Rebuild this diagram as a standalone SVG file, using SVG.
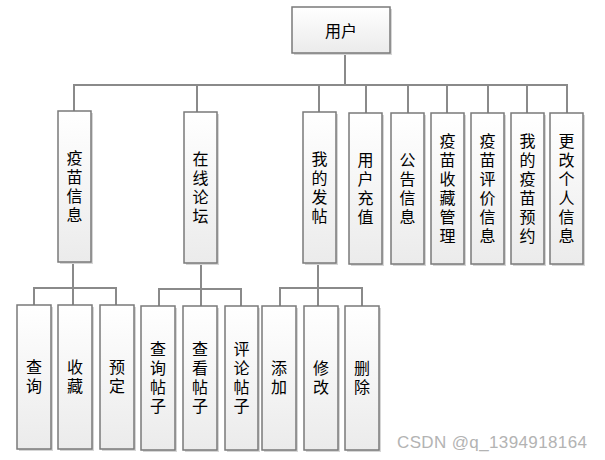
<svg xmlns="http://www.w3.org/2000/svg" width="605" height="460" viewBox="0 0 605 460">
<defs>
<linearGradient id="g" x1="0" y1="0" x2="0" y2="1">
<stop offset="0" stop-color="#ffffff"/>
<stop offset="1" stop-color="#ebebeb"/>
</linearGradient>
<style>
.b{fill:url(#g);stroke:#7a7a7a;stroke-width:1.5}
.s{fill:#d6d6d6}
.t{font-family:"Noto Sans CJK SC","Noto Sans CJK JP",sans-serif;font-size:16px;fill:#000;text-anchor:middle;dominant-baseline:central}
.v{font-family:"Noto Sans CJK SC","Noto Sans CJK JP",sans-serif;font-size:16px;fill:#000;text-anchor:middle;writing-mode:vertical-rl;text-orientation:upright;letter-spacing:3px}
.c line{stroke:#8a8a8a;stroke-width:2}
.w{font-family:"Liberation Sans",Arial,sans-serif;font-size:17px;fill:#b3b3b3}
</style>
</defs>
<rect width="605" height="460" fill="#fff"/>
<g class="c" id="connectors">
<line x1="345" y1="53" x2="345" y2="85"/>
<line x1="73" y1="85" x2="568" y2="85"/>
<line x1="74" y1="85" x2="74" y2="111"/>
<line x1="197" y1="85" x2="197" y2="112"/>
<line x1="319" y1="85" x2="319" y2="112"/>
<line x1="366" y1="85" x2="366" y2="113"/>
<line x1="408" y1="85" x2="408" y2="113"/>
<line x1="447" y1="85" x2="447" y2="113"/>
<line x1="488" y1="85" x2="488" y2="113"/>
<line x1="527" y1="85" x2="527" y2="113"/>
<line x1="567" y1="85" x2="567" y2="113"/>
<line x1="73" y1="262" x2="73" y2="305"/>
<line x1="33" y1="288" x2="117" y2="288"/>
<line x1="34" y1="288" x2="34" y2="305"/>
<line x1="116" y1="288" x2="116" y2="305"/>
<line x1="201" y1="263" x2="201" y2="306"/>
<line x1="158" y1="289" x2="242" y2="289"/>
<line x1="159" y1="289" x2="159" y2="306"/>
<line x1="241" y1="289" x2="241" y2="306"/>
<line x1="318" y1="263" x2="318" y2="306"/>
<line x1="279" y1="288" x2="363" y2="288"/>
<line x1="280" y1="288" x2="280" y2="306"/>
<line x1="362" y1="288" x2="362" y2="306"/>
</g>
<g id="n0"><rect class="s" x="294" y="9" width="98" height="46"/><rect class="b" x="292" y="7" width="98" height="46"/><text class="t" x="341" y="30">用户</text></g>
<g id="n1"><rect class="s" x="60" y="113" width="33" height="151"/><rect class="b" x="58" y="111" width="33" height="151"/><text class="v" x="74.5" y="188">疫苗信息</text></g>
<g id="n2"><rect class="s" x="186" y="114" width="33" height="151"/><rect class="b" x="184" y="112" width="33" height="151"/><text class="v" x="200.5" y="189">在线论坛</text></g>
<g id="n3"><rect class="s" x="305" y="114" width="33" height="151"/><rect class="b" x="303" y="112" width="33" height="151"/><text class="v" x="319.5" y="189">我的发帖</text></g>
<g id="n4"><rect class="s" x="351" y="115" width="33" height="151"/><rect class="b" x="349" y="113" width="33" height="151"/><text class="v" x="365.5" y="190">用户充值</text></g>
<g id="n5"><rect class="s" x="393" y="115" width="33" height="151"/><rect class="b" x="391" y="113" width="33" height="151"/><text class="v" x="407.5" y="190">公告信息</text></g>
<g id="n6"><rect class="s" x="433" y="115" width="33" height="151"/><rect class="b" x="431" y="113" width="33" height="151"/><text class="v" x="447.5" y="190">疫苗收藏管理</text></g>
<g id="n7"><rect class="s" x="473" y="115" width="33" height="151"/><rect class="b" x="471" y="113" width="33" height="151"/><text class="v" x="487.5" y="190">疫苗评价信息</text></g>
<g id="n8"><rect class="s" x="513" y="115" width="33" height="151"/><rect class="b" x="511" y="113" width="33" height="151"/><text class="v" x="527.5" y="190">我的疫苗预约</text></g>
<g id="n9"><rect class="s" x="552" y="115" width="33" height="151"/><rect class="b" x="550" y="113" width="33" height="151"/><text class="v" x="566.5" y="190">更改个人信息</text></g>
<g id="n10"><rect class="s" x="19" y="307" width="34" height="144"/><rect class="b" x="17" y="305" width="34" height="144"/><text class="v" x="34" y="378">查询</text></g>
<g id="n11"><rect class="s" x="60" y="307" width="34" height="144"/><rect class="b" x="58" y="305" width="34" height="144"/><text class="v" x="75" y="378">收藏</text></g>
<g id="n12"><rect class="s" x="102" y="307" width="34" height="144"/><rect class="b" x="100" y="305" width="34" height="144"/><text class="v" x="117" y="378">预定</text></g>
<g id="n13"><rect class="s" x="143" y="308" width="34" height="144"/><rect class="b" x="141" y="306" width="34" height="144"/><text class="v" x="158" y="379">查询帖子</text></g>
<g id="n14"><rect class="s" x="185" y="308" width="34" height="144"/><rect class="b" x="183" y="306" width="34" height="144"/><text class="v" x="200" y="379">查看帖子</text></g>
<g id="n15"><rect class="s" x="227" y="308" width="33" height="144"/><rect class="b" x="225" y="306" width="33" height="144"/><text class="v" x="241.5" y="379">评论帖子</text></g>
<g id="n16"><rect class="s" x="264" y="308" width="34" height="144"/><rect class="b" x="262" y="306" width="34" height="144"/><text class="v" x="279" y="379">添加</text></g>
<g id="n17"><rect class="s" x="306" y="308" width="34" height="144"/><rect class="b" x="304" y="306" width="34" height="144"/><text class="v" x="321" y="379">修改</text></g>
<g id="n18"><rect class="s" x="347" y="308" width="34" height="144"/><rect class="b" x="345" y="306" width="34" height="144"/><text class="v" x="362" y="379">删除</text></g>
<text class="w" x="397" y="448" textLength="190">CSDN @q_1394918164</text>
</svg>
